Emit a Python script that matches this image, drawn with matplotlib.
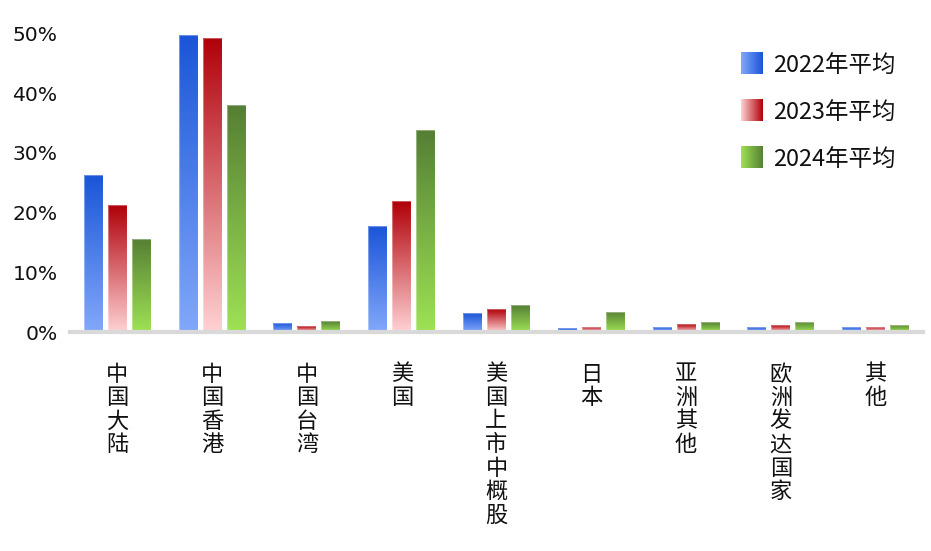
import matplotlib
matplotlib.use("Agg")
import matplotlib.pyplot as plt
import numpy as np
from matplotlib.colors import LinearSegmentedColormap

plt.rcParams['font.family'] = ['Noto Sans CJK SC', 'DejaVu Sans']

categories = ["中国大陆", "中国香港", "中国台湾", "美国", "美国上市中概股", "日本", "亚洲其他", "欧洲发达国家", "其他"]
series_names = ["2022年平均", "2023年平均", "2024年平均"]
v2022 = [26.3, 49.8, 1.5, 17.7, 3.1, 0.6, 0.9, 0.9, 0.9]
v2023 = [21.2, 49.3, 1.0, 21.9, 3.8, 0.9, 1.3, 1.1, 0.9]
v2024 = [15.6, 38.0, 1.8, 33.8, 4.5, 3.4, 1.6, 1.7, 1.2]
yticks = [0, 10, 20, 30, 40, 50]

# (top/dark, bottom/light)
grads = [("#1a55d8", "#82a8fa"), ("#b00008", "#ffd2d4"), ("#557f34", "#9ee254")]

W, H = 931, 551
fig = plt.figure(figsize=(W / 100, H / 100), dpi=100)
ax_l, ax_r, ax_b, ax_t = 70, 923, 332, 20
ax = fig.add_axes([ax_l / W, (H - ax_b) / H, (ax_r - ax_l) / W, (ax_b - ax_t) / H])
ymax = (ax_b - ax_t) / 59.7 * 10
ax.set_xlim(-0.5, len(categories) - 0.5)
ax.set_ylim(0, ymax)

bw = 0.2
offs = [-0.253, 0.0, 0.253]
x = np.arange(len(categories))
grad_img = np.linspace(0, 1, 256).reshape(-1, 1)
for vals, off, (dark, light) in zip([v2022, v2023, v2024], offs, grads):
    cmap = LinearSegmentedColormap.from_list("g", [light, dark])
    bars = ax.bar(x + off, vals, bw, color="none", edgecolor="none", zorder=2)
    for rect in bars:
        x0, y0 = rect.get_x(), rect.get_y()
        w, h = rect.get_width(), rect.get_height()
        im = ax.imshow(grad_img, cmap=cmap, aspect="auto", origin="lower",
                       extent=[x0, x0 + w, y0, y0 + h], zorder=2)
        im.set_clip_path(rect)
        ax.add_patch(plt.Rectangle((x0, y0), w, h, fill=False,
                                   edgecolor=(1, 1, 1, 0.35), lw=0.8, zorder=3))

ax.set_xlim(-0.5, len(categories) - 0.5)
ax.set_ylim(0, ymax)

for s in ["top", "right", "left"]:
    ax.spines[s].set_visible(False)
ax.spines["bottom"].set_color("#d9d9d9")
ax.spines["bottom"].set_linewidth(3)
ax.spines["bottom"].set_zorder(4)

ax.set_yticks(yticks)
ax.set_yticklabels([f"{t}%" for t in yticks], fontsize=14.6, color="#111111",
                   family=['DejaVu Sans'])
ax.tick_params(axis="y", length=0, pad=9)
ax.set_xticks(x)
ax.set_xticklabels(["\n".join(c) for c in categories], fontsize=16, linespacing=1.03,
                   va="top", color="#111111")
ax.tick_params(axis="x", length=0, pad=22)

# legend
for i, (name, (dark, light)) in enumerate(zip(series_names, grads)):
    cy = 63 + i * 47
    lax = fig.add_axes([741 / W, (H - cy - 11) / H, 22 / W, 22 / H])
    cmap = LinearSegmentedColormap.from_list("g", [light, dark])
    lax.imshow(np.linspace(0, 1, 256).reshape(1, -1), cmap=cmap, aspect="auto")
    lax.axis("off")
    fig.text(773 / W, (H - cy - 2) / H, name, fontsize=16.9, va="center", ha="left", color="#111111")

fig.savefig("out.png", dpi=100)
